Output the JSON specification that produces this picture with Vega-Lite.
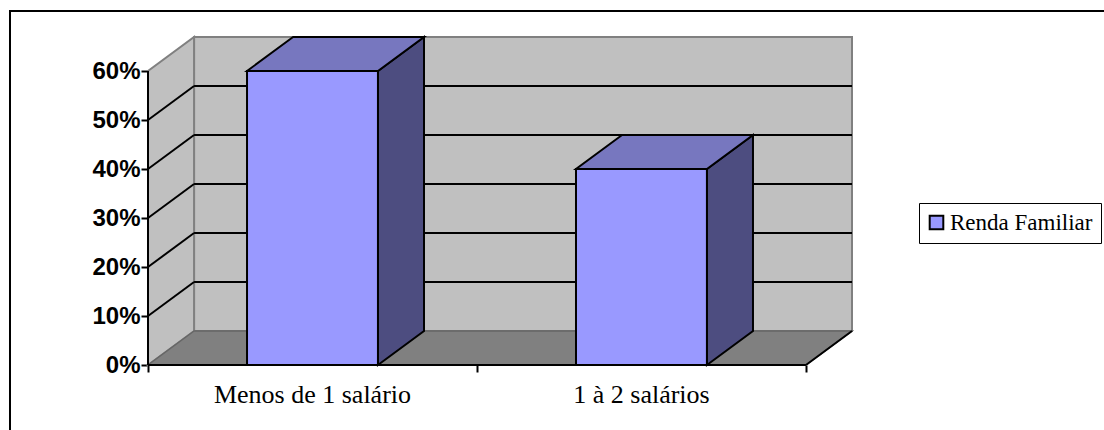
{
  "$schema": "https://vega.github.io/schema/vega-lite/v6.json",
  "width": 704,
  "height": 328,
  "autosize": "none",
  "padding": {"left": 148, "top": 37, "right": 252, "bottom": 65},
  "background": "white",
  "config": {
    "view": {"stroke": null},
    "legend": {
      "orient": "none", "legendX": 771, "legendY": 166,
      "title": null, "padding": 8,
      "fillColor": "white", "strokeColor": "black",
      "symbolType": "square", "symbolSize": 185, "symbolOffset": -2,
      "symbolStrokeColor": "black", "symbolStrokeWidth": 2,
      "labelFont": "Liberation Serif", "labelFontSize": 23, "labelColor": "black", "labelOffset": 2
    }
  },
  "datasets": {
    "renda": [
      {"categoria": "Menos de 1 salário", "pos": 0.5, "valor": 0.6},
      {"categoria": "1 à 2 salários", "pos": 1.5, "valor": 0.4}
    ],
    "niveis": [
      {"nivel": 0.1}, {"nivel": 0.2}, {"nivel": 0.3}, {"nivel": 0.4}, {"nivel": 0.5}
    ],
    "fundo": [{"p": 0}, {"p": 1}]
  },
  "layer": [
    {
      "description": "Back wall",
      "data": {"name": "fundo"},
      "transform": [{"filter": "datum.p === 1"}, {"calculate": "0.14", "as": "x0"}, {"calculate": "2.14", "as": "x1"}, {"calculate": "0.0694", "as": "y0"}, {"calculate": "0.6694", "as": "y1"}],
      "mark": {"type": "rect", "fill": "#c0c0c0", "stroke": "#808080", "strokeWidth": 2},
      "encoding": {
        "x": {"field": "x0", "type": "quantitative", "scale": {"domain": [0, 2.14], "nice": false, "zero": false}, "axis": {"values": [0, 1, 2], "labels": false, "domain": false, "grid": false, "title": null, "tickSize": 7, "tickWidth": 2, "tickColor": "black"}},
        "x2": {"field": "x1"},
        "y": {"field": "y0", "type": "quantitative", "scale": {"domain": [0, 0.6694], "nice": false, "zero": false}, "axis": {"values": [0, 0.1, 0.2, 0.3, 0.4, 0.5, 0.6], "format": ".0%", "domain": false, "grid": false, "title": null, "tickSize": 7, "tickWidth": 2, "tickColor": "black", "labelFont": "Liberation Sans", "labelFontWeight": "bold", "labelFontSize": 24, "labelColor": "black", "labelPadding": 1}},
        "y2": {"field": "y1"}
      }
    },
    {
      "description": "Side wall",
      "data": {"name": "fundo"},
      "transform": [{"calculate": "datum.p * 0.14", "as": "xx"}, {"calculate": "datum.p * 0.0694", "as": "y0"}, {"calculate": "0.6 + datum.p * 0.0694", "as": "y1"}],
      "mark": {"type": "area", "fill": "#c0c0c0", "stroke": "#808080", "strokeWidth": 2},
      "encoding": {
        "x": {"field": "xx", "type": "quantitative", "scale": {"domain": [0, 2.14], "nice": false, "zero": false}, "title": null},
        "y": {"field": "y0", "type": "quantitative", "scale": {"domain": [0, 0.6694], "nice": false, "zero": false}, "title": null},
        "y2": {"field": "y1"}
      }
    },
    {
      "description": "Floor",
      "data": {"name": "fundo"},
      "transform": [{"calculate": "datum.p * 0.14", "as": "x0"}, {"calculate": "2 + datum.p * 0.14", "as": "x1"}, {"calculate": "datum.p * 0.0694", "as": "yy"}],
      "mark": {"type": "area", "orient": "horizontal", "fill": "#808080", "stroke": "#666666", "strokeWidth": 1.5},
      "encoding": {
        "x": {"field": "x0", "type": "quantitative", "scale": {"domain": [0, 2.14], "nice": false, "zero": false}, "title": null},
        "x2": {"field": "x1"},
        "y": {"field": "yy", "type": "quantitative", "scale": {"domain": [0, 0.6694], "nice": false, "zero": false}, "title": null}
      }
    },
    {
      "description": "Gridlines along the back wall",
      "data": {"name": "niveis"},
      "transform": [{"calculate": "0.14", "as": "x0"}, {"calculate": "2.14", "as": "x1"}, {"calculate": "datum.nivel + 0.0694", "as": "yy"}],
      "mark": {"type": "rule", "color": "black", "strokeWidth": 2},
      "encoding": {
        "x": {"field": "x0", "type": "quantitative", "scale": {"domain": [0, 2.14], "nice": false, "zero": false}, "title": null},
        "x2": {"field": "x1"},
        "y": {"field": "yy", "type": "quantitative", "scale": {"domain": [0, 0.6694], "nice": false, "zero": false}, "title": null}
      }
    },
    {
      "description": "Gridlines receding across the side wall",
      "data": {"name": "niveis"},
      "transform": [{"calculate": "0", "as": "x0"}, {"calculate": "0.14", "as": "x1"}, {"calculate": "datum.nivel + 0.0694", "as": "y1"}],
      "mark": {"type": "rule", "color": "black", "strokeWidth": 2},
      "encoding": {
        "x": {"field": "x0", "type": "quantitative", "scale": {"domain": [0, 2.14], "nice": false, "zero": false}, "title": null},
        "x2": {"field": "x1"},
        "y": {"field": "nivel", "type": "quantitative", "scale": {"domain": [0, 0.6694], "nice": false, "zero": false}, "title": null},
        "y2": {"field": "y1"}
      }
    },
    {
      "description": "Value axis line",
      "data": {"values": [{"de": 0, "ate": 0.6, "x": 0}]},
      "mark": {"type": "rule", "color": "black", "strokeWidth": 2},
      "encoding": {
        "x": {"field": "x", "type": "quantitative", "scale": {"domain": [0, 2.14], "nice": false, "zero": false}, "title": null},
        "y": {"field": "de", "type": "quantitative", "scale": {"domain": [0, 0.6694], "nice": false, "zero": false}, "title": null},
        "y2": {"field": "ate"}
      }
    },
    {
      "description": "Category axis line",
      "data": {"values": [{"de": 0, "ate": 2, "y": 0}]},
      "mark": {"type": "rule", "color": "black", "strokeWidth": 2},
      "encoding": {
        "x": {"field": "de", "type": "quantitative", "scale": {"domain": [0, 2.14], "nice": false, "zero": false}, "title": null},
        "x2": {"field": "ate"},
        "y": {"field": "y", "type": "quantitative", "scale": {"domain": [0, 0.6694], "nice": false, "zero": false}, "title": null}
      }
    },
    {
      "description": "Floor's front-right edge",
      "data": {"values": [{"x0": 2, "x1": 2.14, "y0": 0, "y1": 0.0694}]},
      "mark": {"type": "rule", "color": "black", "strokeWidth": 2},
      "encoding": {
        "x": {"field": "x0", "type": "quantitative", "scale": {"domain": [0, 2.14], "nice": false, "zero": false}, "title": null},
        "x2": {"field": "x1"},
        "y": {"field": "y0", "type": "quantitative", "scale": {"domain": [0, 0.6694], "nice": false, "zero": false}, "title": null},
        "y2": {"field": "y1"}
      }
    },
    {
      "description": "Bar side faces",
      "data": {"name": "renda"},
      "transform": [
        {"calculate": "[0, 1]", "as": "p"}, {"flatten": ["p"]},
        {"calculate": "datum.pos + 0.199 + datum.p * 0.14", "as": "xx"},
        {"calculate": "datum.p * 0.0694", "as": "y0"},
        {"calculate": "datum.valor + datum.p * 0.0694", "as": "y1"}
      ],
      "mark": {"type": "area", "fill": "#4d4d80", "stroke": "black", "strokeWidth": 2},
      "encoding": {
        "detail": {"field": "categoria"},
        "x": {"field": "xx", "type": "quantitative", "scale": {"domain": [0, 2.14], "nice": false, "zero": false}, "title": null},
        "y": {"field": "y0", "type": "quantitative", "scale": {"domain": [0, 0.6694], "nice": false, "zero": false}, "title": null},
        "y2": {"field": "y1"}
      }
    },
    {
      "description": "Bar top faces",
      "data": {"name": "renda"},
      "transform": [
        {"calculate": "[0, 1]", "as": "p"}, {"flatten": ["p"]},
        {"calculate": "datum.pos - 0.199 + datum.p * 0.14", "as": "x0"},
        {"calculate": "datum.pos + 0.199 + datum.p * 0.14", "as": "x1"},
        {"calculate": "datum.valor + datum.p * 0.0694", "as": "yy"}
      ],
      "mark": {"type": "area", "orient": "horizontal", "fill": "#7777bf", "stroke": "black", "strokeWidth": 2},
      "encoding": {
        "detail": {"field": "categoria"},
        "x": {"field": "x0", "type": "quantitative", "scale": {"domain": [0, 2.14], "nice": false, "zero": false}, "title": null},
        "x2": {"field": "x1"},
        "y": {"field": "yy", "type": "quantitative", "scale": {"domain": [0, 0.6694], "nice": false, "zero": false}, "title": null}
      }
    },
    {
      "description": "Bar front faces, carrying the legend",
      "data": {"name": "renda"},
      "transform": [
        {"calculate": "datum.pos - 0.199", "as": "x0"},
        {"calculate": "datum.pos + 0.199", "as": "x1"},
        {"calculate": "0", "as": "base"}
      ],
      "mark": {"type": "rect", "stroke": "black", "strokeWidth": 2},
      "encoding": {
        "x": {"field": "x0", "type": "quantitative", "scale": {"domain": [0, 2.14], "nice": false, "zero": false}, "title": null},
        "x2": {"field": "x1"},
        "y": {"field": "valor", "type": "quantitative", "scale": {"domain": [0, 0.6694], "nice": false, "zero": false}, "title": null},
        "y2": {"field": "base"},
        "color": {"datum": "Renda Familiar", "scale": {"range": ["#9999ff"]}, "legend": {"labelExpr": "datum.label + '\u00a0'"}}
      }
    },
    {
      "description": "Category labels under the axis",
      "data": {"name": "renda"},
      "transform": [{"calculate": "0", "as": "base"}],
      "mark": {"type": "text", "font": "Liberation Serif", "fontSize": 26, "color": "black", "dy": 30, "baseline": "middle", "align": "center"},
      "encoding": {
        "x": {"field": "pos", "type": "quantitative", "scale": {"domain": [0, 2.14], "nice": false, "zero": false}, "title": null},
        "y": {"field": "base", "type": "quantitative", "scale": {"domain": [0, 0.6694], "nice": false, "zero": false}, "title": null},
        "text": {"field": "categoria"}
      }
    },
    {
      "description": "Chart frame, running off the right and bottom of the page",
      "data": {"values": [{"x0": -0.4195, "x1": 2.93, "y0": 0.7224, "y1": -0.15}]},
      "mark": {"type": "rect", "fill": null, "stroke": "black", "strokeWidth": 2, "clip": false},
      "encoding": {
        "x": {"field": "x0", "type": "quantitative", "scale": {"domain": [0, 2.14], "nice": false, "zero": false}, "title": null},
        "x2": {"field": "x1"},
        "y": {"field": "y0", "type": "quantitative", "scale": {"domain": [0, 0.6694], "nice": false, "zero": false}, "title": null},
        "y2": {"field": "y1"}
      }
    }
  ]
}
